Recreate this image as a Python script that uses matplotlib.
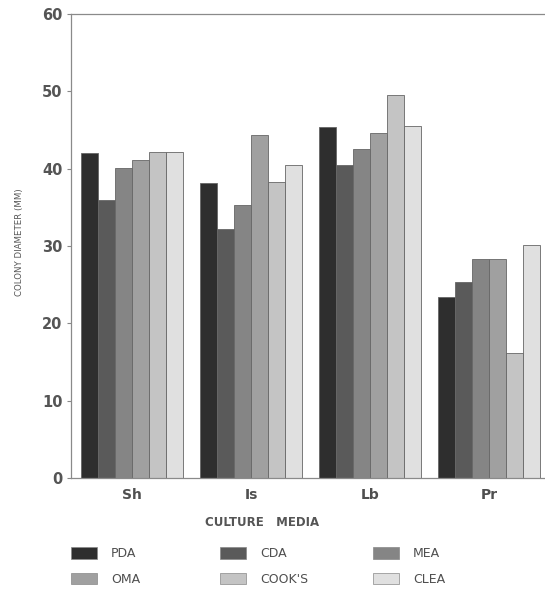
import numpy as np
import matplotlib.pyplot as plt
from matplotlib.patches import Patch

# culture media along the x axis
media = ['Sh', 'Is', 'Lb', 'Pr']

# colony diameter (mm) for each agar
pda = [42.0, 38.2, 45.4, 23.4]
cda = [36.0, 32.2, 40.5, 25.4]
mea = [40.1, 35.3, 42.6, 28.3]
oma = [41.1, 44.4, 44.6, 28.3]
cooks = [42.2, 38.3, 49.5, 16.2]
clea = [42.2, 40.5, 45.5, 30.1]

series = [pda, cda, mea, oma, cooks, clea]
names = ['PDA', 'CDA', 'MEA', 'OMA', "COOK'S", 'CLEA']
colores = ['#2e2e2e', '#5a5a5a', '#858585', '#a0a0a0', '#c4c4c4', '#e0e0e0']

fig = plt.figure(figsize=(5.45, 5.95), dpi=100)
ax = fig.add_axes([71 / 545, 1 - 478 / 595, 1 - 71 / 545, (478 - 14) / 595])

x = np.arange(len(media))
w = 17 / 119
for k, (vals, c) in enumerate(zip(series, colores)):
    ax.bar(x + (k - 2.5) * w, vals, width=w, color=c,
           edgecolor='#666666', linewidth=0.6)

ax.set_ylim(0, 60)
ax.set_xlim(-0.5126, -0.5126 + 474 / 119)
ax.set_yticks(range(0, 61, 10))
ax.set_xticks(x)
ax.set_xticklabels(media, fontsize=10, fontweight='bold', color='#4f4f4f')
ax.tick_params(axis='x', length=0, pad=7)
ax.tick_params(axis='y', length=3, width=0.8, color='#888888', pad=3,
               labelsize=10.5, labelcolor='#555555')
for t in ax.get_yticklabels():
    t.set_fontweight('bold')

ax.spines['right'].set_visible(False)
for s in ['left', 'top', 'bottom']:
    ax.spines[s].set_color('#8a8a8a')
    ax.spines[s].set_linewidth(0.9)

fig.text(20 / 545, 1 - 242 / 595, 'COLONY DIAMETER (MM)', rotation=90,
         fontsize=6.2, color='#555555', ha='center', va='center')
fig.text(262 / 545, 1 - 522 / 595, 'CULTURE   MEDIA', fontsize=8.5,
         fontweight='bold', color='#555555', ha='center', va='center')

# legend, one block per column
col_x = [71, 220, 373]
for j in range(3):
    handles = [Patch(facecolor=colores[j + 3 * r], edgecolor='#888888',
                     linewidth=0.5, label=names[j + 3 * r]) for r in range(2)]
    fig.legend(handles=handles, loc='upper left',
               bbox_to_anchor=(col_x[j] / 545, 1 - 547 / 595),
               frameon=False, fontsize=9, handlelength=2.1,
               handleheight=1.05, handletextpad=1.1, labelspacing=1.0,
               borderpad=0, borderaxespad=0, labelcolor='#4f4f4f')

plt.savefig('out.png')
